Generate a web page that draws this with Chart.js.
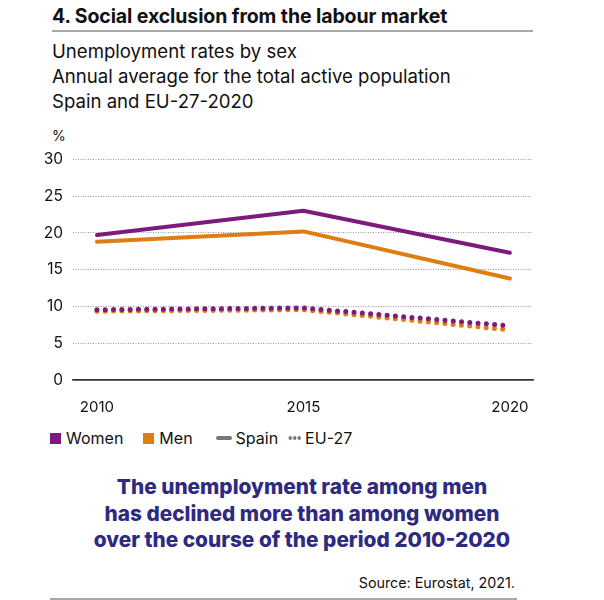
<!DOCTYPE html>
<html>
<head>
<meta charset="utf-8">
<script src="https://cdn.jsdelivr.net/npm/chart.js@4"></script>
<style>
  body { margin: 0; background: #fff; font-family: Inter, "Noto Sans", sans-serif; color: #111; }
  .page { position: relative; width: 604px; height: 600px; overflow: hidden; }
  .title { position: absolute; left: 52px; top: 4px; font-size: 19.5px; font-weight: 700; letter-spacing: -0.1px; }
  .rule { position: absolute; left: 52px; width: 481px; height: 2px; background: #a8a8a8; }
  .sub { position: absolute; left: 52px; top: 39px; font-size: 18.6px; line-height: 25px; }
  .unit { position: absolute; left: 52px; top: 127px; font-size: 14px; }
  #wrap { position: absolute; left: 0; top: 140px; width: 545px; height: 272px; }
  .legend { position: absolute; left: 50px; top: 428px; font-size: 16px; display: flex; align-items: center; }
  .legend span { display: inline-flex; align-items: center; }
  .sq { width: 11px; height: 11px; margin-right: 5px; }
  .ln { width: 16px; height: 4px; border-radius: 2px; background: #777; margin-right: 4px; }
  .dots { width: 13px; height: 4px; margin-right: 4px;
          background: radial-gradient(circle, #777 1.6px, transparent 2px) 0 0 / 4.5px 4px repeat-x; }
  .msg { position: absolute; left: 0; width: 604px; top: 474px; text-align: center; font-size: 20.8px;
         line-height: 26.5px; font-weight: 800; color: #2e2a7f; }
  .src { position: absolute; right: 89px; top: 574px; font-size: 14.3px; }
</style>
</head>
<body>
<div class="page">
  <div class="title">4. Social exclusion from the labour market</div>
  <div class="rule" style="top:30px"></div>
  <div class="sub">Unemployment rates by sex<br>Annual average for the total active population<br>Spain and EU-27-2020</div>
  <div class="unit">%</div>
  <div id="wrap"><canvas id="chart"></canvas></div>
  <div class="legend">
    <span><i class="sq" style="background:#7d1a7e"></i>Women</span>
    <span style="margin-left:20px"><i class="sq" style="background:#e07d10"></i>Men</span>
    <span style="margin-left:23px"><i class="ln"></i>Spain</span>
    <span style="margin-left:10px"><i class="dots"></i>EU-27</span>
  </div>
  <div class="msg">The unemployment rate among men<br>has declined more than among women<br>over the course of the period 2010-2020</div>
  <div class="src">Source: Eurostat, 2021.</div>
  <div class="rule" style="top:598px; left:50px; width:467px"></div>
</div>
<script>
const years = [2010, 2015, 2020];
const spainWomen = [19.7, 23.0, 17.3];
const spainMen = [18.8, 20.2, 13.8];
const euWomen = [9.55, 9.8, 7.35];
const euMen = [9.35, 9.55, 6.8];
const yTicks = [0, 5, 10, 15, 20, 25, 30];

const purple = "#7d1a7e";
const orange = "#e07d10";

function series(label, values, color, dotted) {
  return {
    label: label,
    data: years.map((y, i) => ({ x: y, y: values[i] })),
    borderColor: color,
    backgroundColor: color,
    borderWidth: dotted ? 5 : 4,
    borderDash: dotted ? [0, 8.3] : [],
    borderCapStyle: "round",
    borderJoinStyle: "round",
    pointRadius: 0,
    fill: false,
    tension: 0,
  };
}

const ctx = document.getElementById("chart").getContext("2d");
const chart = new Chart(ctx, {
  type: "line",
  data: {
    datasets: [
      series("Spain women", spainWomen, purple, false),
      series("Spain men", spainMen, orange, false),
      series("EU-27 women", euWomen, purple, true),
      series("EU-27 men", euMen, orange, true),
    ],
  },
  options: {
    responsive: true,
    maintainAspectRatio: false,
    animation: false,
    layout: { padding: { top: 18, right: 12, left: 0, bottom: 0 } },
    plugins: { legend: { display: false }, tooltip: { enabled: false } },
    scales: {
      x: {
        type: "linear",
        min: 2009.42,
        max: 2020.56,
        afterBuildTicks: (scale) => { scale.ticks = years.map((v) => ({ value: v })); },
        afterFit: (scale) => { scale.height = 32; },
        grid: { display: false },
        border: { display: true, color: "#333", width: 1.5 },
        ticks: {
          padding: 10,
          color: "#111",
          font: { family: "Inter", size: 15 },
          callback: (v) => String(v),
        },
      },
      y: {
        min: 0,
        max: 30,
        afterBuildTicks: (scale) => { scale.ticks = yTicks.map((v) => ({ value: v })); },
        afterFit: (scale) => { scale.width = 73; },
        grid: {
          color: (c) => (c.tick && c.tick.value === 0 ? "#333" : "#9a9a9a"),
          lineWidth: (c) => (c.tick && c.tick.value === 0 ? 1.5 : 1),
          drawTicks: false,
        },
        border: {
          display: false,
          dash: (c) => (c.tick && c.tick.value === 0 ? [] : [1, 1.5]),
        },
        ticks: {
          padding: 10,
          color: "#111",
          font: { family: "Inter", size: 15.5 },
        },
      },
    },
  },
});
</script>
</body>
</html>
